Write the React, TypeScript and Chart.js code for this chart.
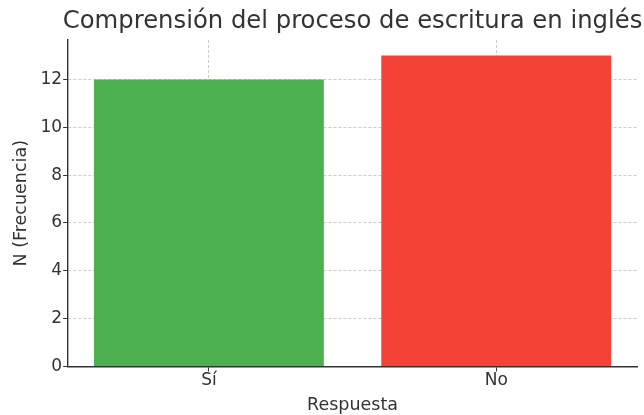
import React, { useEffect, useRef } from "react";
import { Chart, registerables } from "chart.js";

Chart.register(...registerables);

const categories = ["Sí", "No"];
const counts = [12, 13];
const barColors = ["#4CAF50", "#F44336"];
const titleText = "Comprensión del proceso de escritura en inglés";
const xTitle = "Respuesta";
const yTitle = "N (Frecuencia)";

const FONT = "'DejaVu Sans', sans-serif";
const TEXT = "#333333";
const GRID = "rgba(170,170,170,0.6)";

const titlePlugin = {
  id: "axesTitle",
  afterDraw(chart: any) {
    const { ctx, chartArea } = chart;
    ctx.save();
    ctx.fillStyle = TEXT;
    ctx.font = `24.3px ${FONT}`;
    ctx.textAlign = "center";
    ctx.textBaseline = "middle";
    ctx.fillText(titleText, (chartArea.left + chartArea.right) / 2, 21.5);
    ctx.restore();
  },
};

export default function App() {
  const ref = useRef<HTMLCanvasElement | null>(null);
  useEffect(() => {
    document.body.style.margin = "0";
    document.body.style.overflow = "hidden";
    const chart = new Chart(ref.current!, {
      type: "bar",
      data: {
        datasets: [
          {
            data: counts.map((v, i) => ({ x: i, y: v })),
            backgroundColor: barColors,
            borderWidth: 0,
            categoryPercentage: 1,
            barPercentage: 0.8,
          },
        ],
      },
      plugins: [titlePlugin],
      options: {
        animation: false,
        responsive: false,
        maintainAspectRatio: false,
        layout: { padding: { left: 13, right: 7, top: 40, bottom: 1 } },
        plugins: {
          legend: { display: false },
          tooltip: { enabled: false },
          title: { display: false },
        },
        scales: {
          x: {
            type: "linear",
            z: 1,
            min: -0.49,
            max: categories.length - 1 + 0.49,
            offset: false,
            afterBuildTicks: (scale: any) => {
              scale.ticks = categories.map((_, i) => ({ value: i }));
            },
            grid: {
              offset: false,
              color: GRID,
              lineWidth: 1,
              tickColor: TEXT,
              tickLength: 5,
              drawTicks: true,
            },
            border: { display: true, color: TEXT, width: 1.4, dash: [3, 2] },
            ticks: {
              autoSkip: false,
              maxRotation: 0,
              callback: (v: any) => categories[Number(v)] ?? "",
              color: TEXT,
              font: { family: FONT, size: 17, lineHeight: 1 },
              padding: 0.5,
            },
            title: {
              display: true,
              text: xTitle,
              color: TEXT,
              font: { family: FONT, size: 17.5, lineHeight: 1 },
              padding: { top: 7, bottom: 0 },
            },
          },
          y: {
            z: 1,
            min: 0,
            max: 13.65,
            grid: {
              color: GRID,
              lineWidth: 1,
              tickColor: TEXT,
              tickLength: 5,
              drawTicks: true,
            },
            border: { display: true, color: TEXT, width: 1.4, dash: [3, 2] },
            ticks: {
              stepSize: 2,
              includeBounds: false,
              color: TEXT,
              font: { family: FONT, size: 17, lineHeight: 1 },
              padding: 1,
            },
            title: {
              display: true,
              text: yTitle,
              color: TEXT,
              font: { family: FONT, size: 17.5, lineHeight: 1 },
              padding: { top: 0, bottom: 9 },
            },
          },
        },
      },
    });
    return () => chart.destroy();
  }, []);
  return (
    <div style={{ width: 644, height: 415, overflow: "hidden" }}>
      <canvas ref={ref} width={644} height={415} style={{ display: "block" }} />
    </div>
  );
}
